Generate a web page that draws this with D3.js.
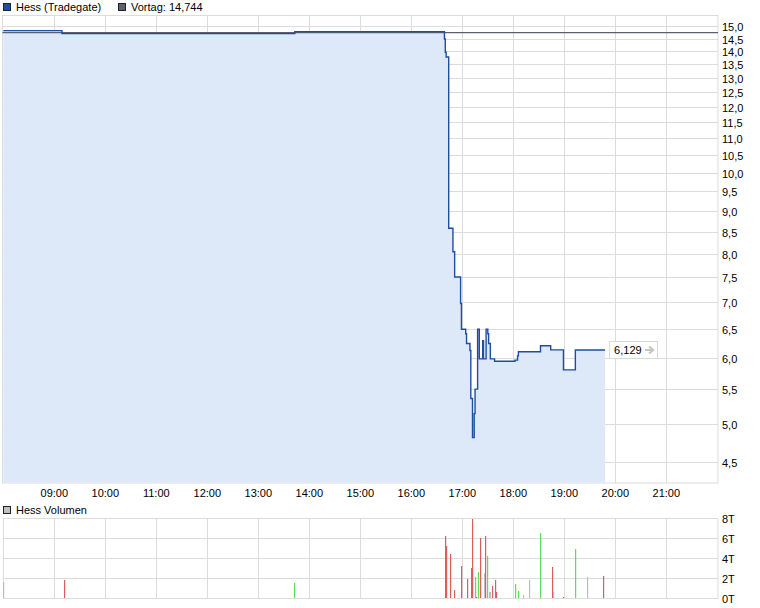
<!DOCTYPE html>
<html>
<head>
<meta charset="utf-8">
<script src="https://cdn.jsdelivr.net/npm/d3@7"></script>
<style>
body{margin:0;background:#fff;}
svg{display:block;font-family:Arial,"Liberation Sans",sans-serif;font-size:11px;}
</style>
</head>
<body>
<svg id="chart" width="760" height="608"></svg>
<script>
// ---- data ----
const seriesName = "Hess (Tradegate)";
const prevCloseLabel = "Vortag: 14,744";
const prevClose = 14.744;
const volumeName = "Hess Volumen";
const priceTimes = ["08:00","09:09","13:43","16:39","16:40","16:41","16:44","16:49","16:51","16:58","16:59","17:04","17:05","17:09","17:10","17:12","17:14","17:15","17:18","17:20","17:24","17:25","17:28","17:30","17:31","17:33","17:38","18:02","18:05","18:06","18:32","18:44","18:59","19:13","19:48"];
const priceValues = [14.82,14.70,14.78,14.48,13.96,13.78,8.58,8.04,7.50,6.97,6.49,6.41,6.24,6.12,5.36,4.81,5.14,5.50,6.49,5.98,6.29,5.98,6.49,6.41,6.24,5.98,5.94,5.96,6.03,6.10,6.20,6.13,5.80,6.129,6.129];
const lastPriceLabel = "6,129";
const volTimes = ["08:00","09:11","13:42","16:40","16:41","16:45","16:50","16:58","17:06","17:10","17:11","17:12","17:15","17:16","17:18","17:21","17:25","17:27","17:29","17:31","17:33","17:35","17:39","17:40","18:02","18:06","18:11","18:19","18:32","18:46","18:47","18:59","19:13","19:27","19:45"];
const volValues = [1.6,1.8,1.5,6.2,5.2,4.4,0.8,3.2,1.9,3.0,2.7,7.9,2.1,0.1,2.6,6.0,2.5,6.2,4.2,0.6,0.6,1.2,1.8,0.6,1.4,0.7,0.3,1.8,6.5,3.1,0.6,0.1,4.9,2.1,2.2];
const volDir = ["flat","down","up","down","down","down","down","down","down","down","flat","down","up","down","up","down","flat","down","up","flat","flat","down","down","down","up","up","flat","flat","up","down","flat","down","up","flat","down"];
const priceTicks = [4.5,5.0,5.5,6.0,6.5,7.0,7.5,8.0,8.5,9.0,9.5,10.0,10.5,11.0,11.5,12.0,12.5,13.0,13.5,14.0,14.5,15.0];
const volTicks = [0,2,4,6,8];
const hourTicks = ["09:00","10:00","11:00","12:00","13:00","14:00","15:00","16:00","17:00","18:00","19:00","20:00","21:00"];
const timeDomain = ["08:00","22:00"];

// ---- helpers ----
const toMin = s => { const [h,m] = s.split(":").map(Number); return h*60+m; };
const fmt = v => d3.format(".1f")(v).replace(".", ",");
const crisp = v => Math.round(v) + 0.5;

const svg = d3.select("#chart");
const C = {line:"#1f4e9e", fill:"#dde8f8", prev:"#5a5f70", grid:"#dcdcdc", up:"#5ddc5d", down:"#dd5c5c", flat:"#bdbdbd", text:"#000"};

const plot = {left:2.5, right:718, top:15.5, bottom:483};
const vol = {left:2.5, right:718, top:519, bottom:599};

const x = d3.scaleLinear().domain(timeDomain.map(toMin)).range([3.3, 717.3]);
const y = d3.scaleLog().domain([4.5, 15]).range([461.7, 26.3]);
const yv = d3.scaleLinear().domain([0, 8]).range([vol.bottom, vol.top]);

// ---- price panel ----
const gP = svg.append("g");
// horizontal grid
gP.selectAll("line.hg").data(priceTicks).join("line")
  .attr("x1", plot.left).attr("x2", plot.right)
  .attr("y1", d => crisp(y(d))).attr("y2", d => crisp(y(d)))
  .attr("stroke", C.grid).attr("stroke-width", 1);
// vertical grid
gP.selectAll("line.vg").data(hourTicks).join("line")
  .attr("x1", d => crisp(x(toMin(d)))).attr("x2", d => crisp(x(toMin(d))))
  .attr("y1", plot.top).attr("y2", plot.bottom)
  .attr("stroke", C.grid);
// frame
gP.append("rect").attr("x", plot.left).attr("y", plot.top)
  .attr("width", plot.right - plot.left).attr("height", plot.bottom - plot.top)
  .attr("fill", "none").attr("stroke", C.grid);

const pts = priceTimes.map((t, i) => ({t: toMin(t), v: priceValues[i]}));
const area = d3.area().curve(d3.curveStepAfter)
  .x(d => x(d.t)).y0(plot.bottom - 0.5).y1(d => y(d.v));
gP.append("path").datum(pts).attr("d", area).attr("fill", C.fill);

// previous close
gP.append("line").attr("x1", plot.left).attr("x2", plot.right)
  .attr("y1", y(prevClose)).attr("y2", y(prevClose))
  .attr("stroke", C.prev).attr("stroke-width", 1.2);

const line = d3.line().curve(d3.curveStepAfter).x(d => x(d.t)).y(d => y(d.v));
gP.append("path").datum(pts).attr("d", line)
  .attr("fill", "none").attr("stroke", C.line).attr("stroke-width", 1.4);

// y labels
gP.selectAll("text.yl").data(priceTicks).join("text")
  .attr("x", 722).attr("y", d => y(d) + 5)
  .attr("fill", C.text).text(d => fmt(d));

// x labels
gP.selectAll("text.xl").data(hourTicks).join("text")
  .attr("x", d => x(toMin(d))).attr("y", 497)
  .attr("text-anchor", "middle").attr("fill", C.text).text(d => d);

// last price box
const last = pts[pts.length - 1];
const bx = x(last.t) + 4, by = y(last.v);
gP.append("rect").attr("x", Math.round(bx) + 0.5).attr("y", Math.round(by - 9) + 0.5)
  .attr("width", 48).attr("height", 17).attr("fill", "#fff").attr("stroke", "#d8d8d8");
gP.append("text").attr("x", bx + 5).attr("y", by + 4).attr("fill", C.text).text(lastPriceLabel);
gP.append("path").attr("d", `M${bx+36},${by}h8M${bx+40},${by-3.5}l4,3.5l-4,3.5`)
  .attr("fill", "none").attr("stroke", "#c4c4c4").attr("stroke-width", 2);

// legend
const legend = [{label: seriesName, color: "#1f4e9e", x: 3}, {label: prevCloseLabel, color: "#5a5f70", x: 118}];
legend.forEach(l => {
  svg.append("rect").attr("x", l.x + 0.5).attr("y", 3.5).attr("width", 7).attr("height", 7)
    .attr("fill", l.color).attr("stroke", "#222");
  svg.append("text").attr("x", l.x + 13).attr("y", 11).attr("fill", C.text).text(l.label);
});

// ---- volume panel ----
const gV = svg.append("g");
svg.append("rect").attr("x", 3.5).attr("y", 506.5).attr("width", 7).attr("height", 7)
  .attr("fill", "#c0c0c0").attr("stroke", "#222");
svg.append("text").attr("x", 16).attr("y", 514).attr("fill", C.text).text(volumeName);

gV.selectAll("line.hg").data(volTicks).join("line")
  .attr("x1", vol.left).attr("x2", vol.right)
  .attr("y1", d => crisp(yv(d)) - 1).attr("y2", d => crisp(yv(d)) - 1)
  .attr("stroke", C.grid);
gV.selectAll("line.vg").data(hourTicks).join("line")
  .attr("x1", d => crisp(x(toMin(d)))).attr("x2", d => crisp(x(toMin(d))))
  .attr("y1", vol.top).attr("y2", vol.bottom)
  .attr("stroke", C.grid);
gV.append("line").attr("x1", crisp(vol.left)).attr("x2", crisp(vol.left)).attr("y1", vol.top).attr("y2", vol.bottom).attr("stroke", C.grid);
gV.append("line").attr("x1", vol.right).attr("x2", vol.right).attr("y1", vol.top).attr("y2", vol.bottom).attr("stroke", C.grid);

const vb = volTimes.map((t, i) => ({t: toMin(t), v: volValues[i], d: volDir[i]}));
gV.selectAll("rect.bar").data(vb).join("rect")
  .attr("x", d => Math.round(x(d.t)))
  .attr("y", d => yv(d.v) - 1)
  .attr("width", 1.2)
  .attr("height", d => yv(0) - yv(d.v))
  .attr("fill", d => C[d.d]);

gV.selectAll("text.yl").data(volTicks).join("text")
  .attr("x", 722).attr("y", d => yv(d) + 4)
  .attr("fill", C.text).text(d => d + "T");
</script>
</body>
</html>
